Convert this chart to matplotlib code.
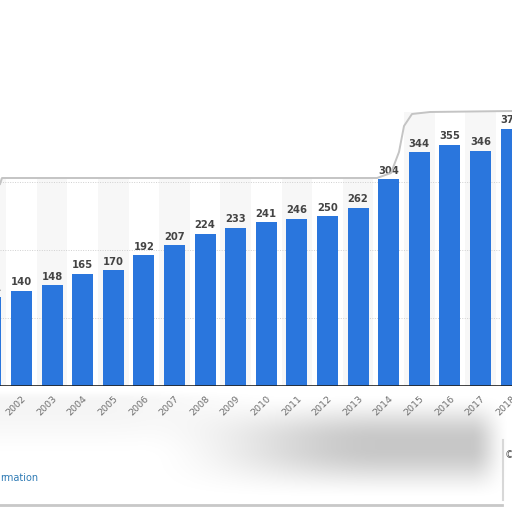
import matplotlib
matplotlib.use("Agg")
import matplotlib.pyplot as plt
from matplotlib.lines import Line2D
import numpy as np

years = list(range(2001, 2019))
values = [131, 140, 148, 165, 170, 192, 207, 224, 233, 241, 246, 250, 262, 304, 344, 355, 346, 378]
year_labels = [str(y) for y in years]

fig = plt.figure(figsize=(5.12, 5.12), dpi=100)
fig.patch.set_facecolor("white")

# soft screenshot shadow below the chart (decorative)
sh = fig.add_axes([0, 0, 1, 1], zorder=-5)
sh.set_axis_off()
xx, yy = np.meshgrid(np.arange(512), np.arange(512))
def ramp(v, a, b):
    t = np.clip((v - a) / (b - a), 0, 1)
    return t * t * (3 - 2 * t)
shade = (ramp(xx, 140, 380) * (1 - ramp(xx, 470, 510)) *
         ramp(yy, 392, 440) * (1 - ramp(yy, 448, 500)))
shade2 = (1 - ramp(xx, 100, 300)) * ramp(yy, 388, 400) * (1 - ramp(yy, 410, 460))
dark = 0.22 * shade + 0.04 * shade2
img = np.zeros((512, 512, 4))
img[..., 3] = dark
sh.imshow(img, extent=(0, 1, 0, 1), origin="upper", aspect="auto")
sh.set_xlim(0, 1)
sh.set_ylim(0, 1)

# axes: baseline at pixel 386, top at pixel 112
bottom = (512 - 386) / 512
top = (512 - 112) / 512
ax = fig.add_axes([0, bottom, 1, top - bottom])
ax.patch.set_alpha(0)
px_per_unit = 0.68
ymax = (386 - 112) / px_per_unit
spacing = 30.6
x0 = 2002 - 21.5 / spacing
x1 = 2002 + (512 - 21.5) / spacing

# panel background stripes (alternate columns)
panel_low = (386 - 178) / px_per_unit
panel_high = (386 - 112) / px_per_unit
for y in years:
    h = panel_low if y < 2014.6 else panel_high
    if y % 2 == 1:
        ax.bar(y, h, width=1.0, color="#f7f7f7", zorder=0, linewidth=0)

# grid lines
for g in [100, 200, 300]:
    ax.axhline(g, color="#d0d0d0", linestyle=(0, (1, 1.5)), linewidth=0.7, zorder=1)

ax.bar(years, values, width=21 / spacing, color="#2a76dd", zorder=2)
for y, v in zip(years, values):
    ax.annotate(str(v), (y, v), xytext=(0, 2.5), textcoords="offset points",
                ha="center", va="bottom", fontsize=7.2, fontweight="bold",
                color="#444444", zorder=3, annotation_clip=False)

ax.axhline(0, color="#222222", linewidth=1.2, zorder=3)

for s in ax.spines.values():
    s.set_visible(False)
ax.set_yticks([])
ax.set_xticks(years)
ax.set_xticklabels(year_labels, rotation=45, ha="right", rotation_mode="anchor",
                   fontsize=6.8, color="#707070")
ax.tick_params(axis="x", length=0, pad=6)
ax.set_xlim(x0, x1)
ax.set_ylim(0, ymax)

# panel border (screenshot frame)
pts = [(0, 184), (2, 178), (377, 178), (391, 173), (399, 152), (404, 126),
       (412, 114), (430, 112), (512, 111)]
bx = [p[0] / 512 for p in pts]
by = [(512 - p[1]) / 512 for p in pts]
fig.add_artist(Line2D(bx, by, color="#c4c4c4", linewidth=1.4, transform=fig.transFigure))
fig.add_artist(Line2D([0, 0.98], [(512 - 505) / 512] * 2, color="#c8c8c8",
                      linewidth=2.0, transform=fig.transFigure))
fig.add_artist(Line2D([0.982, 0.982], [(512 - 500) / 512, (512 - 440) / 512],
                      color="#d8d8d8", linewidth=1.5, transform=fig.transFigure))

fig.text(0.0, (512 - 478) / 512, "rmation", fontsize=7, color="#2f7bb5",
         ha="left", va="center")
fig.text(0.985, (512 - 455) / 512, "©", fontsize=7, color="#555555",
         ha="left", va="center")

fig.savefig("out.png", dpi=100, facecolor="white")
